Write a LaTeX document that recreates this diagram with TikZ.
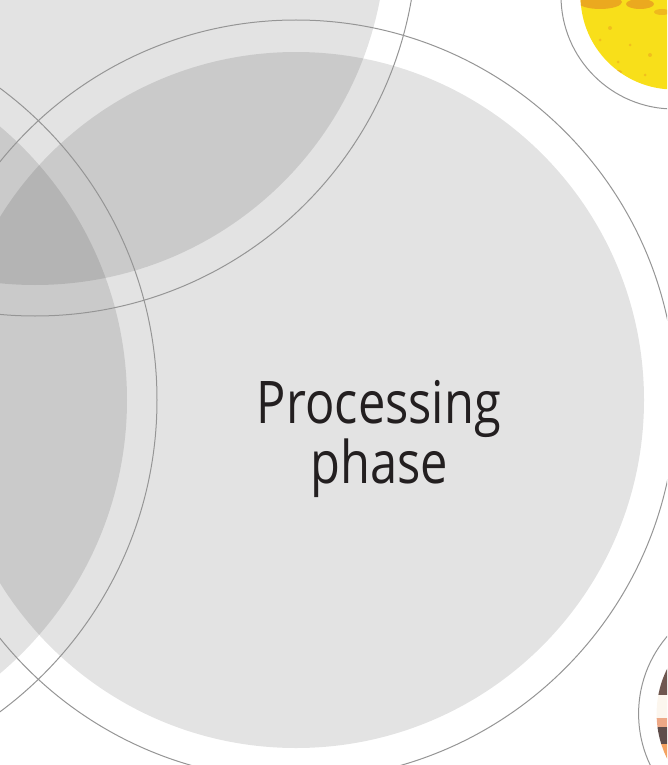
\documentclass[tikz,border=0pt]{standalone}
\usepackage{fontspec}
\setmainfont{Open Sans}
\definecolor{ringgray}{HTML}{959595}
\definecolor{txt}{HTML}{231F20}
\definecolor{yel}{HTML}{F8DF1A}
\definecolor{org}{HTML}{E9A020}
\definecolor{brn}{HTML}{6F5750}
\definecolor{crm}{HTML}{FCF6EE}
\definecolor{pch}{HTML}{EDA886}
\definecolor{dgr}{HTML}{5E4D4A}
\definecolor{orn}{HTML}{F3A262}
\begin{document}
\begin{tikzpicture}[x=1pt,y=-1pt,
  disc/.style={fill=black, fill opacity=0.11, draw=none},
  ring/.style={draw=ringgray, line width=1pt, fill=none},
  label/.style={text=txt, align=center, inner sep=0pt,
    font=\fontsize{58.8}{58}\selectfont}]
\useasboundingbox (0,0) rectangle (667,765);
\clip (0,0) rectangle (667,765);
% grey discs
\fill[disc] (35,-66) circle (351);
\fill[disc] (-231,400) circle (358);
\fill[disc] (296,400) circle (348);
% outline rings
\draw[ring] (35,-66) circle (382);
\draw[ring] (-231,400) circle (388);
\draw[ring] (296,400) circle (380);
% yellow picture disc
\begin{scope}
  \clip (674,-4) circle (93.5);
  \fill[yel] (560,-20) rectangle (700,120);
  \fill[org, opacity=0.85] (600,2) ellipse [x radius=22, y radius=7];
  \fill[org, opacity=0.85] (640,4) ellipse [x radius=14, y radius=5];
  \fill[org, opacity=0.6] (662,12) ellipse [x radius=8, y radius=3];
  \fill[org, opacity=0.5] (610,28) circle (2);
  \fill[org, opacity=0.5] (630,45) circle (1.5);
  \fill[org, opacity=0.5] (650,55) circle (2);
  \fill[org, opacity=0.5] (618,62) circle (1.5);
  \fill[org, opacity=0.6] (618,72) ellipse [x radius=4, y radius=2];
  \fill[org, opacity=0.5] (645,75) circle (1.5);
  \fill[org, opacity=0.5] (600,40) circle (1.5);
\end{scope}
\draw[ring] (674,-4) circle (113);
% photo disc
\begin{scope}
  \clip (757.6,713.7) circle (101);
  \fill[brn] (640,600) rectangle (680,695);
  \fill[crm] (640,695) rectangle (680,718);
  \fill[pch] (640,718) rectangle (680,727);
  \fill[dgr] (640,727) rectangle (680,744);
  \fill[orn] (640,744) rectangle (680,780);
\end{scope}
\draw[ring] (757.6,713.7) circle (119);
% label
\node[label, anchor=base] (title) at (379,483)
  {\scalebox{0.83}[1]{Processing}\\\scalebox{0.83}[1]{phase}};
\end{tikzpicture}
\end{document}
